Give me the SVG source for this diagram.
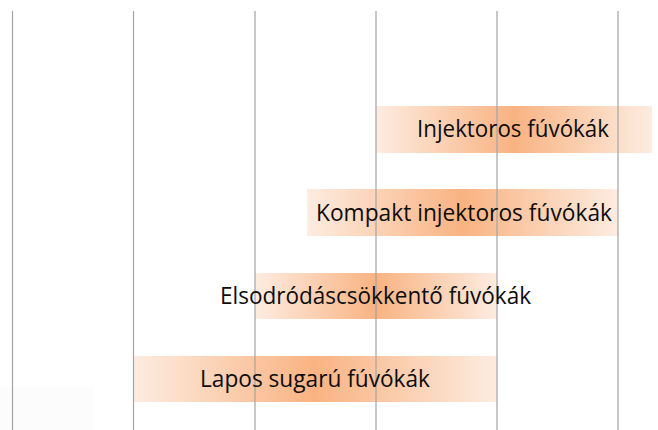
<svg xmlns="http://www.w3.org/2000/svg" width="658" height="430" viewBox="0 0 658 430">
  <defs>
    <linearGradient id="barGrad" x1="0" y1="0" x2="1" y2="0">
      <stop offset="0" stop-color="#fdece1"/>
      <stop offset="0.5" stop-color="#f9b382"/>
      <stop offset="1" stop-color="#fdece1"/>
    </linearGradient>
    <style>
      .bar { fill: url(#barGrad); }
      .grid { stroke: #a3a3a3; stroke-width: 1.2; }
      .label { font-family: "Open Sans", "Noto Sans", sans-serif; font-size: 24px; fill: #0d0d0d; text-anchor: middle; }
    </style>
  </defs>
  <rect width="658" height="430" fill="#ffffff"/>
  <rect x="0" y="387" width="93" height="43" fill="#fcfcfc"/>

  <g id="bar-injektoros">
    <rect class="bar" x="376" y="106" width="276" height="47"/>
  </g>
  <g id="bar-kompakt">
    <rect class="bar" x="307" y="189" width="311" height="47"/>
  </g>
  <g id="bar-elsodrodas">
    <rect class="bar" x="255" y="273" width="242" height="46"/>
  </g>
  <g id="bar-lapos">
    <rect class="bar" x="133" y="356" width="364" height="46"/>
  </g>

  <g id="connectors">
    <line class="grid" x1="12.5" y1="11" x2="12.5" y2="430"/>
    <line class="grid" x1="133.5" y1="11" x2="133.5" y2="430"/>
    <line class="grid" x1="255" y1="11" x2="255" y2="430"/>
    <line class="grid" x1="376" y1="11" x2="376" y2="430"/>
    <line class="grid" x1="497" y1="11" x2="497" y2="430"/>
    <line class="grid" x1="618" y1="11" x2="618" y2="430"/>
  </g>

  <g id="labels">
    <text class="label" x="513" y="136.5" textLength="192" lengthAdjust="spacingAndGlyphs">Injektoros fúvókák</text>
    <text class="label" x="464" y="220.5" textLength="296" lengthAdjust="spacingAndGlyphs">Kompakt injektoros fúvókák</text>
    <text class="label" x="375.5" y="304" textLength="311" lengthAdjust="spacingAndGlyphs">Elsodródáscsökkentő fúvókák</text>
    <text class="label" x="315" y="386.5" textLength="230" lengthAdjust="spacingAndGlyphs">Lapos sugarú fúvókák</text>
  </g>
</svg>
